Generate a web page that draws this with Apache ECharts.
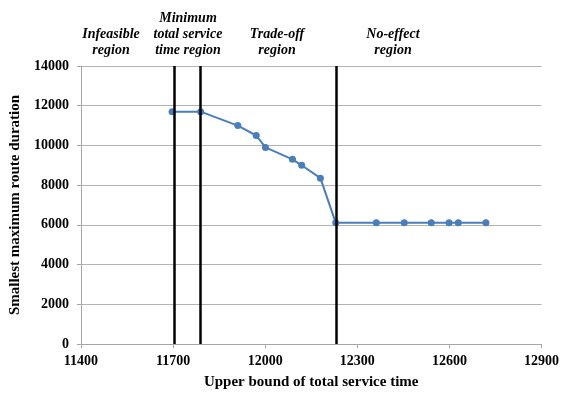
<!DOCTYPE html>
<html>
<head>
<meta charset="utf-8">
<script src="https://cdn.jsdelivr.net/npm/echarts@6/dist/echarts.min.js"></script>
<style>
  html, body { margin: 0; padding: 0; background: #fff; }
  #chart { width: 562px; height: 395px; }
</style>
</head>
<body>
<div id="chart"></div>
<script>
// upper bound of total service time vs smallest max route duration
const serviceBound = [11697, 11790, 11911, 11971, 12001, 12089, 12119, 12180, 12230,
                      12362, 12453, 12541, 12599, 12629, 12719];
const routeDuration = [11700, 11700, 11000, 10500, 9900, 9300, 9000, 8350, 6100,
                       6100, 6100, 6100, 6100, 6100, 6100];
const regionBounds = [11705, 11790, 12230];
const regionLabels = [
    { text: 'Infeasible\nregion', x: 111 },
    { text: 'Minimum\ntotal service\ntime region', x: 188 },
    { text: 'Trade-off\nregion', x: 277 },
    { text: 'No-effect\nregion', x: 393 }
];

const serif = '"Liberation Serif", "Times New Roman", serif';
const chart = echarts.init(document.getElementById('chart'));

const option = {
    backgroundColor: '#ffffff',
    animation: false,
    grid: { left: 79, right: 18, top: 66, bottom: 50 },
    xAxis: {
        type: 'value',
        min: 11400,
        max: 12900,
        interval: 300,
        name: 'Upper bound of total service time',
        nameLocation: 'middle',
        nameGap: 31,
        nameTextStyle: { fontFamily: serif, fontWeight: 'bold', fontSize: 15, color: '#000' },
        axisLine: { lineStyle: { color: '#a6a6a6', width: 1 } },
        axisTick: { show: true, length: 4, lineStyle: { color: '#a6a6a6' } },
        axisLabel: {
            fontFamily: serif, fontWeight: 'bold', fontSize: 14, color: '#000', margin: 10,
            formatter: v => String(v)
        },
        splitLine: { show: false }
    },
    yAxis: {
        type: 'value',
        min: 0,
        max: 14000,
        interval: 2000,
        name: 'Smallest maximum route duration',
        nameLocation: 'middle',
        nameGap: 53,
        nameTextStyle: { fontFamily: serif, fontWeight: 'bold', fontSize: 15, color: '#000' },
        axisLine: { show: true, lineStyle: { color: '#a6a6a6', width: 1 } },
        axisTick: { show: true, length: 4, lineStyle: { color: '#a6a6a6' } },
        axisLabel: {
            fontFamily: serif, fontWeight: 'bold', fontSize: 14, color: '#000', margin: 12,
            formatter: v => String(v)
        },
        splitLine: { lineStyle: { color: '#b3b3b3', width: 1.2 } }
    },
    series: [
        {
            type: 'line',
            data: serviceBound.map((x, i) => [x, routeDuration[i]]),
            symbol: 'circle',
            symbolSize: 7,
            lineStyle: { color: '#4a7ebb', width: 2 },
            itemStyle: { color: '#4a7ebb' },
            z: 3,
            markLine: {
                silent: true,
                symbol: 'none',
                label: { show: false },
                lineStyle: { color: '#000', width: 2.5, type: 'solid' },
                data: regionBounds.map(v => ({ xAxis: v }))
            }
        }
    ],
    graphic: regionLabels.map(r => ({
        type: 'text',
        x: r.x,
        y: 58,
        style: {
            text: r.text,
            fill: '#000',
            font: 'italic bold 14px ' + serif,
            align: 'center',
            verticalAlign: 'bottom',
            lineHeight: 16
        }
    }))
};

chart.setOption(option);
</script>
</body>
</html>
